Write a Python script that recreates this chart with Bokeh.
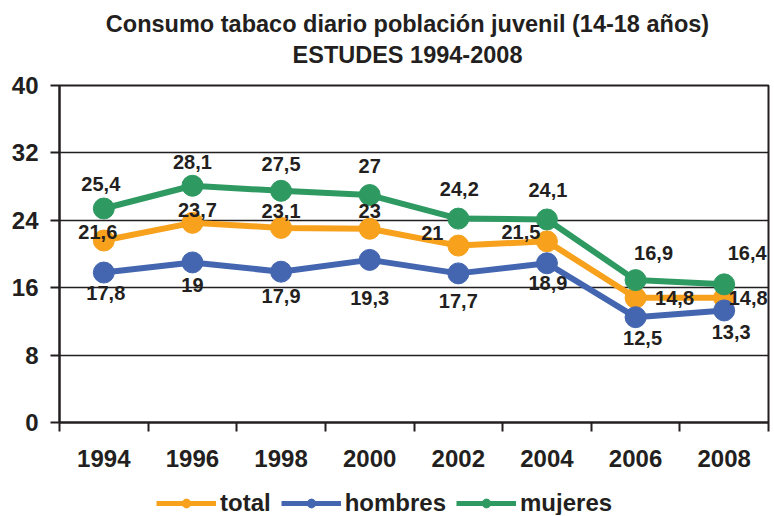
from bokeh.plotting import figure
from bokeh.layouts import column
from bokeh.models import (ColumnDataSource, Range1d, FixedTicker, Legend, LegendItem,
                          LabelSet, Label)
from bokeh.core.properties import value
from bokeh.embed import file_html
from bokeh.resources import INLINE

years = ["1994", "1996", "1998", "2000", "2002", "2004", "2006", "2008"]
total = [21.6, 23.7, 23.1, 23.0, 21.0, 21.5, 14.8, 14.8]
hombres = [17.8, 19.0, 17.9, 19.3, 17.7, 18.9, 12.5, 13.3]
mujeres = [25.4, 28.1, 27.5, 27.0, 24.2, 24.1, 16.9, 16.4]
y_ticks = [0, 8, 16, 24, 32, 40]
series_names = ["total", "hombres", "mujeres"]
title1 = "Consumo tabaco diario población juvenil (14-18 años)"
title2 = "ESTUDES 1994-2008"

# label offsets (pixels, y up) - styling only
total_dx = [-6, 5, 0, 0, -26, -26, 39, 24]
total_dy = [9, 13, 17, 18, 13, 9, 0, 0]
hom_dx = [2, 0, 0, 0, 0, 1, 7, 7]
hom_dy = [-20, -23, -24, -38, -28, -20, -21, -22]
muj_dx = [-3, 0, 0, 0, 1, 1, 18, 23]
muj_dy = [25, 24, 27, 29, 30, 29, 27, 31]

FONT = "Liberation Sans"
DARK = "#231F20"
COLORS = ["#F7A11C", "#4466B0", "#2E9A62"]
W = 774
FL, FR = 59, 768   # frame left / right in page pixels (frames are aligned in the column)

xs = [i + 0.5 for i in range(len(years))]

def fmt(v):
    return ("%g" % v).replace(".", ",")

# ---- title strip ----
TOP_H = 70
top = figure(width=W, height=TOP_H, output_backend="svg", toolbar_location=None,
             x_range=Range1d(FL, FR), y_range=Range1d(0, TOP_H),
             x_axis_location=None, y_axis_location=None,
             min_border=0, outline_line_color=None)
top.grid.visible = False
for txt, yy in [(title1, TOP_H - 23), (title2, TOP_H - 54)]:
    top.add_layout(Label(x=407, y=yy, text=txt, text_align="center", text_baseline="middle",
                         text_font=FONT, text_font_size="23.5px", text_font_style="bold",
                         text_color=DARK))

# ---- main chart ----
p = figure(frame_width=FR - FL, frame_height=337, output_backend="svg", toolbar_location=None,
           x_range=Range1d(0, len(years)), y_range=Range1d(0, 40),
           min_border_left=FL, min_border_right=W - FR, min_border_top=15,
           min_border_bottom=62)

p.outline_line_color = DARK
p.outline_line_width = 2
p.xgrid.grid_line_color = None
p.ygrid.grid_line_color = DARK
p.ygrid.grid_line_width = 1.5
p.ygrid.ticker = FixedTicker(ticks=y_ticks)

p.yaxis.ticker = FixedTicker(ticks=y_ticks)
p.yaxis.axis_line_color = DARK
p.yaxis.axis_line_width = 2
p.yaxis.major_tick_line_color = DARK
p.yaxis.major_tick_line_width = 2
p.yaxis.major_tick_out = 9
p.yaxis.major_tick_in = 0
p.yaxis.minor_tick_line_color = None
p.yaxis.major_label_text_font = FONT
p.yaxis.major_label_text_font_size = "24px"
p.yaxis.major_label_text_font_style = "bold"
p.yaxis.major_label_text_color = DARK
p.yaxis.major_label_standoff = 12

p.xaxis.ticker = FixedTicker(ticks=xs, minor_ticks=list(range(len(years) + 1)))
p.xaxis.major_label_overrides = {x: y for x, y in zip(xs, years)}
p.xaxis.axis_line_color = DARK
p.xaxis.axis_line_width = 2
p.xaxis.major_tick_line_color = None
p.xaxis.major_tick_out = 0
p.xaxis.major_tick_in = 0
p.xaxis.minor_tick_line_color = DARK
p.xaxis.minor_tick_line_width = 2
p.xaxis.minor_tick_out = 9
p.xaxis.minor_tick_in = 0
p.xaxis.major_label_text_font = FONT
p.xaxis.major_label_text_font_size = "24px"
p.xaxis.major_label_text_font_style = "bold"
p.xaxis.major_label_text_color = DARK
p.xaxis.major_label_standoff = 18

for vals, color, dx, dy in [(total, COLORS[0], total_dx, total_dy),
                            (hombres, COLORS[1], hom_dx, hom_dy),
                            (mujeres, COLORS[2], muj_dx, muj_dy)]:
    src = ColumnDataSource(dict(x=xs, y=vals, lbl=[fmt(v) for v in vals], dx=dx, dy=dy))
    p.line("x", "y", source=src, line_color=color, line_width=6)
    p.scatter("x", "y", source=src, size=21, fill_color=color, line_color=color)
    p.add_layout(LabelSet(x="x", y="y", text="lbl", source=src, x_offset="dx", y_offset="dy",
                          text_align="center", text_baseline="middle", text_font=value(FONT),
                          text_font_size="20px", text_font_style="bold", text_color=DARK))

# ---- legend strip ----
LEG_H = 31
leg = figure(width=W, height=LEG_H, output_backend="svg", toolbar_location=None,
             x_range=Range1d(0, 1), y_range=Range1d(0, 1),
             x_axis_location=None, y_axis_location=None,
             min_border=0, outline_line_color=None)
leg.grid.visible = False
items = []
for name, color in zip(series_names, COLORS):
    es = ColumnDataSource(dict(x=[-10, -11], y=[-10, -10]))   # off-frame, legend swatch only
    ln = leg.line("x", "y", source=es, line_color=color, line_width=5)
    sc = leg.scatter("x", "y", source=es, size=17, fill_color=color, line_color=color)
    items.append(LegendItem(label=name, renderers=[ln, sc]))
legend = Legend(items=items, orientation="horizontal", location=(97, -2),
                label_text_font=FONT, label_text_font_size="24px", label_text_font_style="bold",
                label_text_color=DARK, glyph_width=60, glyph_height=22, spacing=10,
                label_standoff=4, border_line_color=None, background_fill_alpha=0,
                padding=1, margin=0)
leg.add_layout(legend, "center")

layout = column(top, p, leg, spacing=0)
open("out.html", "w").write(file_html(layout, INLINE))
